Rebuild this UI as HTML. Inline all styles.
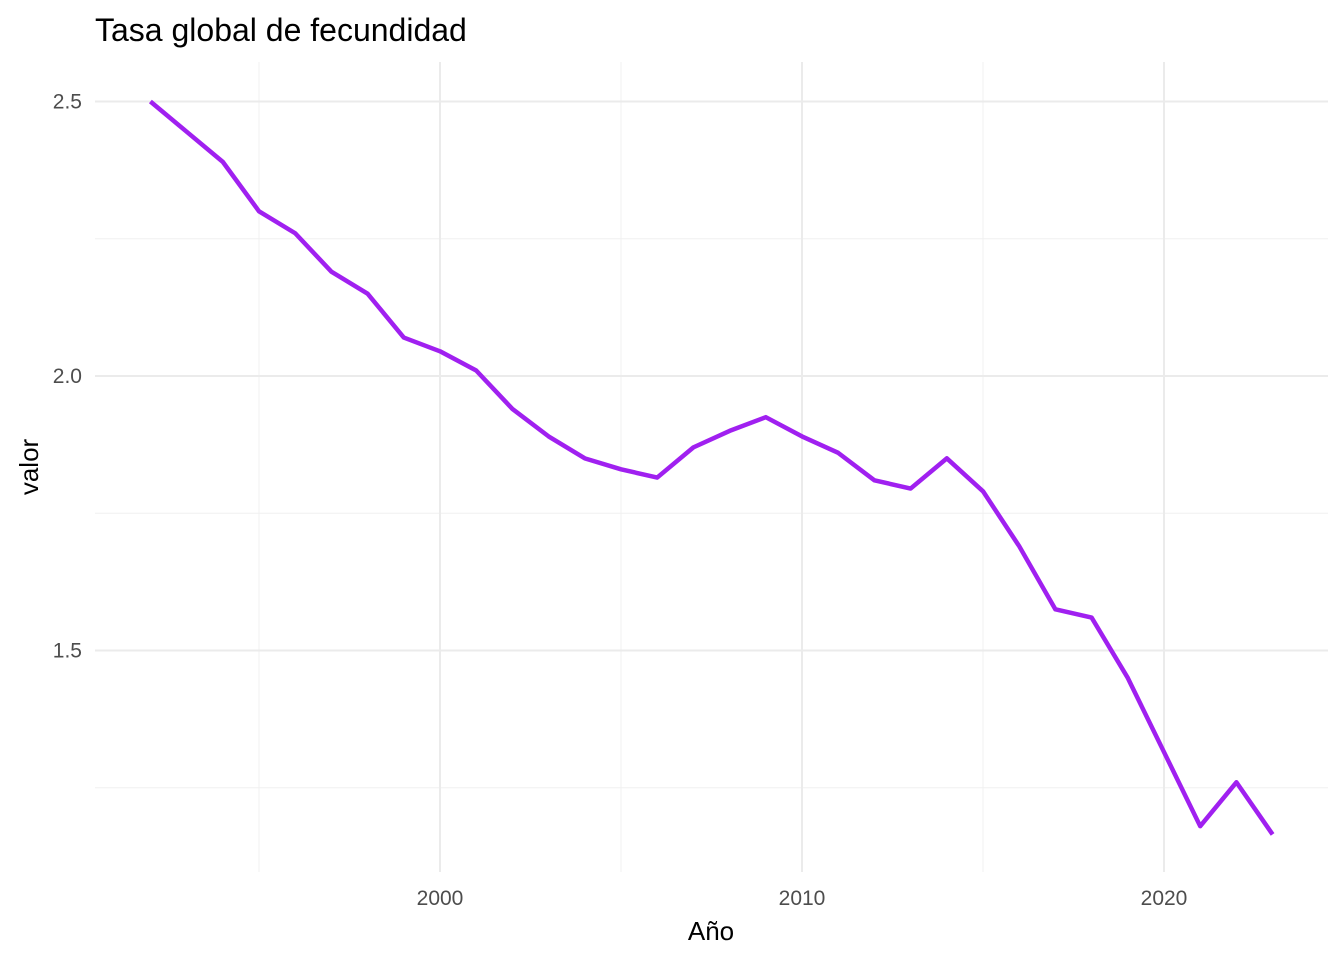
<!DOCTYPE html>
<html><head><meta charset="utf-8"><style>
body{margin:0;background:#fff;font-family:"Liberation Sans",sans-serif}
</style></head><body>
<svg id="chart" width="1344" height="960" xmlns="http://www.w3.org/2000/svg">
<text x="95" y="41" font-size="32" fill="#000">Tasa global de fecundidad</text>
<g id="grid"></g><g id="axes"></g><g id="series"></g>
<text x="711" y="940" font-size="26" text-anchor="middle" fill="#000">Año</text>
<text transform="translate(38,467) rotate(-90)" font-size="26" text-anchor="middle" fill="#000">valor</text>
</svg>
<script>
const years=[1992,1993,1994,1995,1996,1997,1998,1999,2000,2001,2002,2003,2004,2005,2006,2007,2008,2009,2010,2011,2012,2013,2014,2015,2016,2017,2018,2019,2020,2021,2022,2023];
const values=[2.50,2.445,2.39,2.30,2.26,2.19,2.15,2.07,2.045,2.01,1.94,1.89,1.85,1.83,1.815,1.87,1.90,1.925,1.89,1.86,1.81,1.795,1.85,1.79,1.69,1.575,1.56,1.45,1.315,1.18,1.26,1.165];
const xTicks=[2000,2010,2020];
const xMinor=[1995,2005,2015];
const yTicks=[1.5,2.0,2.5];
const yMinor=[1.25,1.75,2.25];
const NS="http://www.w3.org/2000/svg";
const X=v=>440+(v-2000)*36.2;
const Y=v=>376-(v-2.0)*549;
const L=95,R=1328,T=62,B=872;
const grid=document.getElementById('grid'),axes=document.getElementById('axes'),series=document.getElementById('series');
function line(g,x1,y1,x2,y2,c,w){const l=document.createElementNS(NS,'line');l.setAttribute('x1',x1);l.setAttribute('y1',y1);l.setAttribute('x2',x2);l.setAttribute('y2',y2);l.setAttribute('stroke',c);l.setAttribute('stroke-width',w);g.appendChild(l);return l;}
function text(g,x,y,s,a){const t=document.createElementNS(NS,'text');t.setAttribute('x',x);t.setAttribute('y',y);t.setAttribute('font-size','21');t.setAttribute('fill','#4d4d4d');t.setAttribute('text-anchor',a);t.textContent=s;g.appendChild(t);return t;}
yMinor.forEach(v=>{const l=line(grid,L,Y(v),R,Y(v),'#f0f0f0',1);

});
xMinor.forEach(v=>{const l=line(grid,X(v),T,X(v),B,'#f0f0f0',1);

});
yTicks.forEach(v=>{const l=line(grid,L,Y(v),R,Y(v),'#ebebeb',2);


const t=text(axes,82,Y(v)+7,v.toFixed(1),'end');

});
xTicks.forEach(v=>{const l=line(grid,X(v),T,X(v),B,'#ebebeb',2);


const t=text(axes,X(v),905,String(v),'middle');

});
const p=document.createElementNS(NS,'polyline');
p.setAttribute('points',years.map((y,i)=>X(y)+','+Y(values[i])).join(' '));
p.setAttribute('fill','none');p.setAttribute('stroke','#a020f0');p.setAttribute('stroke-width','4.5');p.setAttribute('stroke-linejoin','round');


series.appendChild(p);
</script>
</body></html>
